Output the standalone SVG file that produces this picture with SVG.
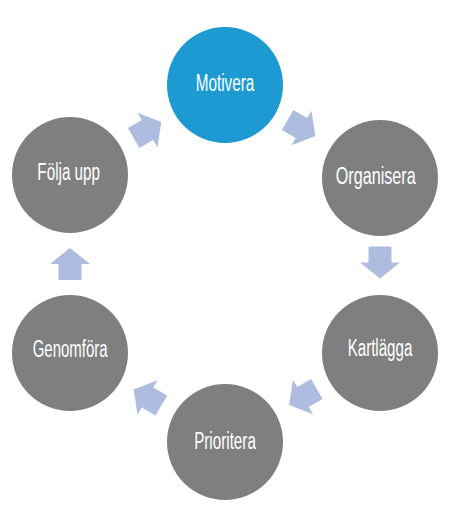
<svg xmlns="http://www.w3.org/2000/svg" width="454" height="508" viewBox="0 0 454 508">
<style>
.node circle{fill:#7F7F7F}
#motivera circle{fill:#1E9AD3}
.node text{fill:#FFFFFF;font-family:"Liberation Sans Narrow","Liberation Sans",Arial,sans-serif;font-size:23px;text-anchor:middle}
.arrow{fill:#AEBCE0}
</style>
<defs>
<path id="arr" d="M-16,-11.5 L0,-11.5 L0,-20 L16,0 L0,20 L0,11.5 L-16,11.5 Z"/>
</defs>
<rect width="454" height="508" fill="#FFFFFF"/>
<g id="connectors">
<use href="#arr" class="arrow" transform="translate(301.5,128) rotate(30)"/>
<use href="#arr" class="arrow" transform="translate(380,262.5) rotate(90)"/>
<use href="#arr" class="arrow" transform="translate(303,397) rotate(150)"/>
<use href="#arr" class="arrow" transform="translate(147.5,397.5) rotate(210)"/>
<use href="#arr" class="arrow" transform="translate(70,264) rotate(270)"/>
<use href="#arr" class="arrow" transform="translate(147.5,130) rotate(330)"/>
</g>
<g id="motivera" class="node">
<circle cx="225" cy="85" r="58"/>
<text x="225" y="90.5" textLength="58.7" lengthAdjust="spacingAndGlyphs">Motivera</text>
</g>
<g id="organisera" class="node">
<circle cx="380" cy="178" r="58"/>
<text x="375.7" y="184" textLength="80" lengthAdjust="spacingAndGlyphs">Organisera</text>
</g>
<g id="kartlagga" class="node">
<circle cx="380" cy="353" r="58"/>
<text x="380" y="356" textLength="64.7" lengthAdjust="spacingAndGlyphs">Kartlägga</text>
</g>
<g id="prioritera" class="node">
<circle cx="225" cy="442" r="58"/>
<text x="225" y="449" textLength="61.7" lengthAdjust="spacingAndGlyphs">Prioritera</text>
</g>
<g id="genomfora" class="node">
<circle cx="70" cy="353" r="58"/>
<text x="70.2" y="356.5" textLength="75" lengthAdjust="spacingAndGlyphs">Genomföra</text>
</g>
<g id="folja-upp" class="node">
<circle cx="70" cy="175" r="58"/>
<text x="68.7" y="180" textLength="62.7" lengthAdjust="spacingAndGlyphs">Följa upp</text>
</g>
</svg>
